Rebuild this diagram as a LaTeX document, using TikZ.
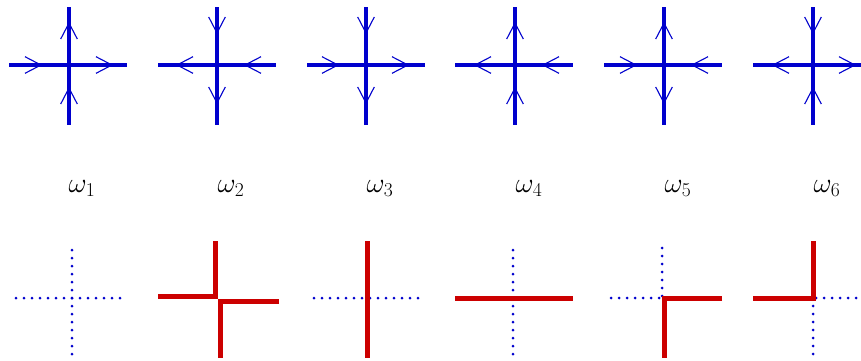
\documentclass[tikz,border=0pt]{standalone}
\RequirePackage{fix-cm}
\definecolor{lineblue}{RGB}{0,0,205}
\definecolor{linered}{RGB}{204,0,0}
\tikzset{
  armline/.style={draw=lineblue, line width=3.3pt},
  headline/.style={draw=lineblue, line width=1.1pt},
  redline/.style={draw=linered, line width=5pt, line join=miter},
  dotline/.style={draw=lineblue, line width=3pt, line cap=round, dash pattern=on 0pt off 8pt},
  vee/.pic={\draw[headline] (-16,-8.3) -- (0,0) -- (-16,8.3);},
  lab/.style={anchor=base, inner sep=0pt, font=\fontsize{28}{34}\selectfont}
}
\begin{document}
\begin{tikzpicture}[x=1pt,y=-1pt]
\useasboundingbox (0,0) rectangle (861,360);
% top row: y center 65 (page coordinates, y downward)
% panel 1
\begin{scope}[shift={(69,65)}]
  \draw[armline] (-60,0) -- (58,0);
  \draw[armline] (0,-58) -- (0,60);
  \pic[rotate=0] at (-28,0) {vee};
  \pic[rotate=0] at (43,0) {vee};
  \pic[rotate=90] at (0,-42) {vee};
  \pic[rotate=90] at (0,23) {vee};
\end{scope}
% panel 2
\begin{scope}[shift={(217,65)}]
  \draw[armline] (-59,0) -- (59,0);
  \draw[armline] (0,-58) -- (0,60);
  \pic[rotate=180] at (-40,0) {vee};
  \pic[rotate=180] at (28,0) {vee};
  \pic[rotate=270] at (0,-32) {vee};
  \pic[rotate=270] at (0,38) {vee};
\end{scope}
% panel 3
\begin{scope}[shift={(366,65)}]
  \draw[armline] (-59,0) -- (59,0);
  \draw[armline] (0,-58) -- (0,60);
  \pic[rotate=0] at (-28,0) {vee};
  \pic[rotate=0] at (42,0) {vee};
  \pic[rotate=270] at (0,-32) {vee};
  \pic[rotate=270] at (0,38) {vee};
\end{scope}
% panel 4
\begin{scope}[shift={(515,65)}]
  \draw[armline] (-60,0) -- (58,0);
  \draw[armline] (0,-58) -- (0,60);
  \pic[rotate=180] at (-40,0) {vee};
  \pic[rotate=180] at (28,0) {vee};
  \pic[rotate=90] at (0,-42) {vee};
  \pic[rotate=90] at (0,23) {vee};
\end{scope}
% panel 5
\begin{scope}[shift={(664,65)}]
  \draw[armline] (-60,0) -- (58,0);
  \draw[armline] (0,-58) -- (0,60);
  \pic[rotate=0] at (-28,0) {vee};
  \pic[rotate=180] at (28,0) {vee};
  \pic[rotate=90] at (0,-42) {vee};
  \pic[rotate=270] at (0,38) {vee};
\end{scope}
% panel 6
\begin{scope}[shift={(813,65)}]
  \draw[armline] (-60,0) -- (48,0);
  \draw[armline] (0,-58) -- (0,60);
  \pic[rotate=180] at (-40,0) {vee};
  \pic[rotate=0] at (42,0) {vee};
  \pic[rotate=270] at (0,-32) {vee};
  \pic[rotate=90] at (0,23) {vee};
\end{scope}

% labels
\node[lab] (w1) at (82,192) {$\omega_1$};
\node[lab] (w2) at (231,192) {$\omega_2$};
\node[lab] (w3) at (380,192) {$\omega_3$};
\node[lab] (w4) at (529,192) {$\omega_4$};
\node[lab] (w5) at (678,192) {$\omega_5$};
\node[lab] (w6) at (827,192) {$\omega_6$};

% bottom row
% panel 1
\draw[dotline] (72,250) -- (72,354.5);
\draw[dotline] (16,298) -- (120.5,298);
% panel 2
\draw[redline] (158,296) -- (215,296) -- (215,241);
\draw[redline] (279,301) -- (220,301) -- (220,358);
% panel 3
\draw[dotline] (314,298) -- (418.5,298);
\draw[redline] (367,241) -- (367,358);
% panel 4
\draw[dotline] (513,250) -- (513,354.5);
\draw[redline] (455,298) -- (573,298);
% panel 5
\draw[dotline] (662,248) -- (662,296.5);
\draw[dotline] (611,298) -- (659.5,298);
\draw[redline] (722,298.5) -- (664.3,298.5) -- (664.3,358);
% panel 6
\draw[dotline] (816,298) -- (856.5,298);
\draw[dotline] (813,306) -- (813,354.5);
\draw[redline] (753,298) -- (813,298) -- (813,241);
\end{tikzpicture}
\end{document}
